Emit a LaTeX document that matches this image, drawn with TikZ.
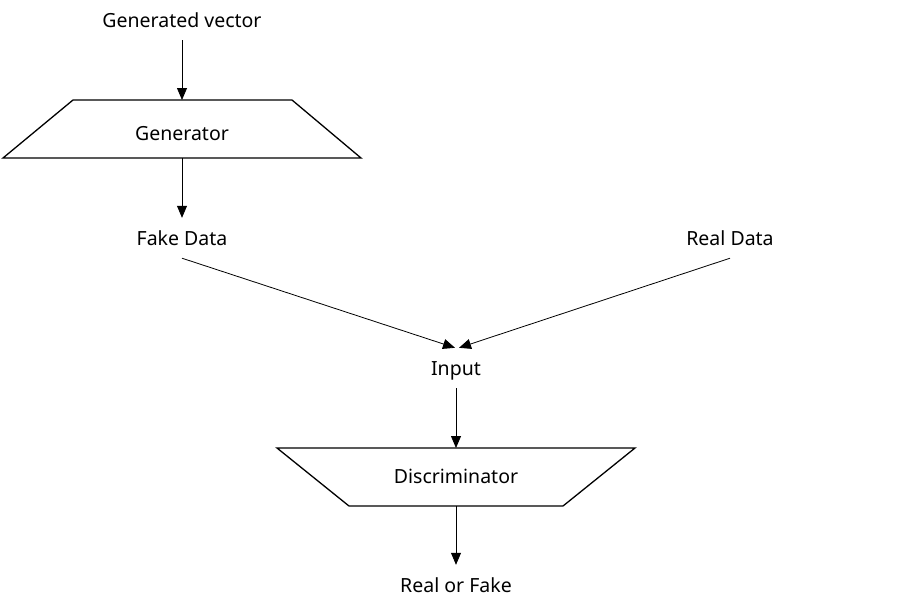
\documentclass[tikz,border=0pt]{standalone}
\usepackage{fontspec}
\setmainfont{Noto Sans}
\usetikzlibrary{arrows.meta}
\begin{document}
\begin{tikzpicture}[x=1pt,y=-1pt,
  lbl/.style={inner sep=0pt,minimum height=40pt,text height=19pt,text depth=5pt,font=\fontsize{19.5}{22}\selectfont},
  conn/.style={line width=0.8pt,-{Triangle[length=12pt,width=10pt]}},
  trap/.style={draw,line width=1.3pt,line join=miter}]
\useasboundingbox (0,0) rectangle (910,611);
% Generator
\draw[trap] (73,100) -- (292,100) -- (361,158) -- (3,158) -- cycle;
\coordinate (gtop) at (182,100);
\coordinate (gbot) at (182,158);
\node[lbl] (gen) at (182,133) {Generator};
% Discriminator
\draw[trap] (277,448) -- (635,448) -- (563,506) -- (349,506) -- cycle;
\coordinate (dtop) at (456,448);
\coordinate (dbot) at (456,506);
\node[lbl] (disc) at (456,476) {Discriminator};
% Labels
\node[lbl] (gv) at (182,20) {Generated vector};
\node[lbl] (fake) at (182,238) {Fake Data};
\node[lbl] (real) at (730,238) {Real Data};
\node[lbl] (inp) at (456,368) {Input};
\node[lbl] (out) at (456,585) {Real or Fake};
% Connectors
\draw[conn] (gv.south) -- (gtop);
\draw[conn] (gbot) -- (fake.north);
\draw[conn] (fake.south) -- ([xshift=-1pt]inp.north);
\draw[conn] (real.south) -- ([xshift=3pt]inp.north);
\draw[conn] (inp.south) -- (dtop);
\draw[conn] (dbot) -- (out.north);
\end{tikzpicture}
\end{document}
